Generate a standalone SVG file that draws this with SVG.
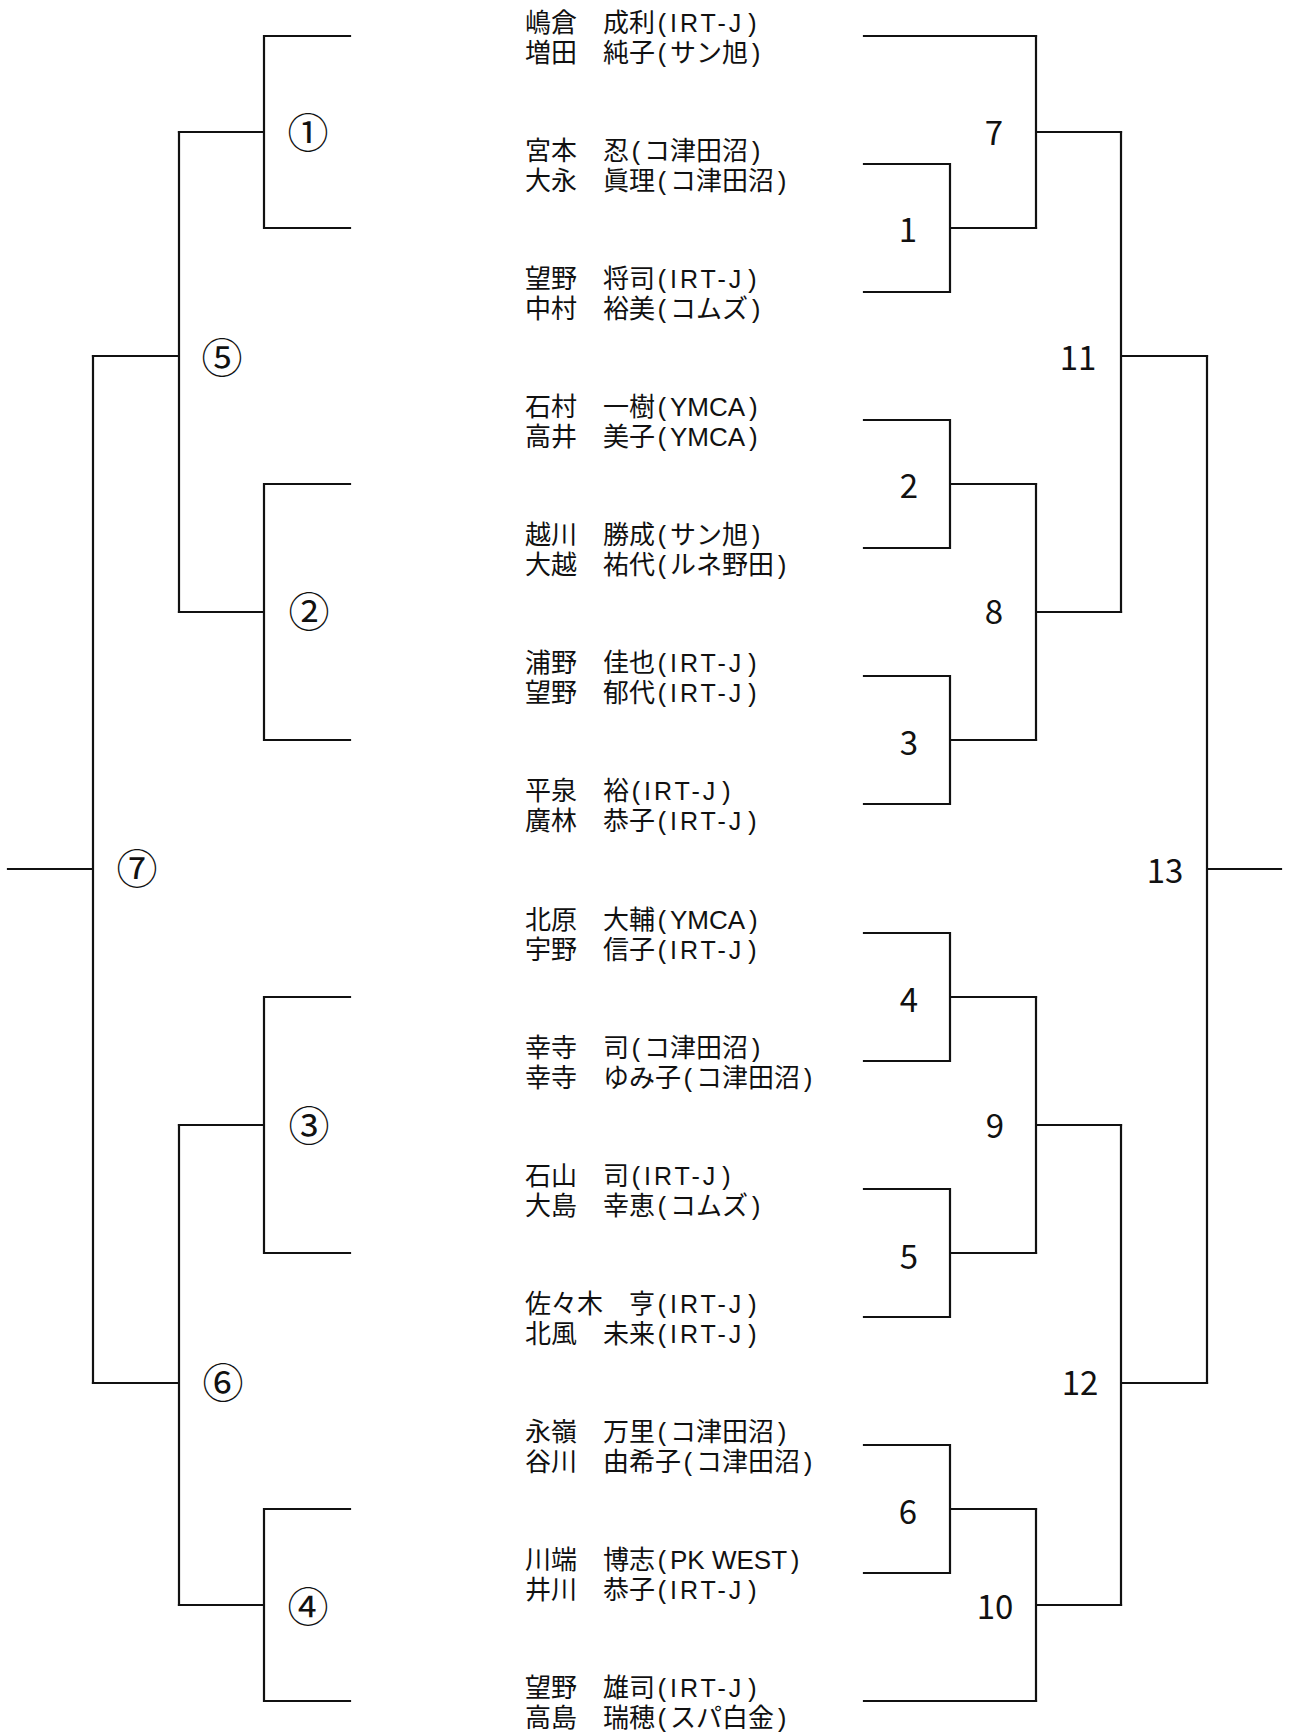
<svg xmlns="http://www.w3.org/2000/svg" width="1290" height="1733" viewBox="0 0 1290 1733">
<style>
.ln{fill:none;stroke:#111;stroke-width:2.2;stroke-linecap:square;stroke-linejoin:miter}
.nm{font-family:"Noto Sans CJK JP","Noto Sans CJK SC",sans-serif;font-size:26px;fill:#111}
.p{font-family:"Liberation Mono","DejaVu Sans Mono",monospace;font-size:25px}
.m{font-family:"Liberation Sans",Arial,sans-serif;font-size:25px;letter-spacing:3px}
.s{font-family:"Liberation Sans",Arial,sans-serif;font-size:26px}
.lb{font-family:"Noto Sans CJK JP","Noto Sans CJK SC",sans-serif;font-size:33px;fill:#111;text-anchor:middle}
.cl{font-family:"Noto Sans CJK JP","Noto Sans CJK SC",sans-serif;font-size:41px;fill:#111;text-anchor:middle}
</style>
<rect width="1290" height="1733" fill="#fff"/>
<g id="connectors" class="ln">
<path d="M864,36 H1036"/>
<path d="M864,164 H950 V292 H864 M950,228 H1036"/>
<path d="M1036,36 V228 M1036,132 H1121"/>
<path d="M864,420 H950 V548 H864 M950,484 H1036"/>
<path d="M864,676 H950 V804 H864 M950,740 H1036"/>
<path d="M1036,484 V740 M1036,612 H1121"/>
<path d="M1121,132 V612 M1121,356 H1207"/>
<path d="M864,933 H950 V1061 H864 M950,997 H1036"/>
<path d="M864,1189 H950 V1317 H864 M950,1253 H1036"/>
<path d="M1036,997 V1253 M1036,1125 H1121"/>
<path d="M864,1445 H950 V1573 H864 M950,1509 H1036"/>
<path d="M864,1701 H1036"/>
<path d="M1036,1509 V1701 M1036,1605 H1121"/>
<path d="M1121,1125 V1605 M1121,1383 H1207"/>
<path d="M1207,356 V1383 M1207,869 H1281"/>
<path d="M350,36 H264 V228 H350 M264,132 H179"/>
<path d="M350,484 H264 V740 H350 M264,612 H179"/>
<path d="M179,132 V612 M179,356 H93"/>
<path d="M350,997 H264 V1253 H350 M264,1125 H179"/>
<path d="M350,1509 H264 V1701 H350 M264,1605 H179"/>
<path d="M179,1125 V1605 M179,1383 H93"/>
<path d="M93,356 V1383 M93,869 H8"/>
</g>
<g id="entry1" class="nm"><text x="525" y="32">嶋倉　成利<tspan class="p">(</tspan><tspan class="m">IRT-J</tspan><tspan class="p">)</tspan></text><text x="525" y="62">増田　純子<tspan class="p">(</tspan>サン旭<tspan class="p">)</tspan></text></g>
<g id="entry2" class="nm"><text x="525" y="160">宮本　忍<tspan class="p">(</tspan>コ津田沼<tspan class="p">)</tspan></text><text x="525" y="190">大永　眞理<tspan class="p">(</tspan>コ津田沼<tspan class="p">)</tspan></text></g>
<g id="entry3" class="nm"><text x="525" y="288">望野　将司<tspan class="p">(</tspan><tspan class="m">IRT-J</tspan><tspan class="p">)</tspan></text><text x="525" y="318">中村　裕美<tspan class="p">(</tspan>コムズ<tspan class="p">)</tspan></text></g>
<g id="entry4" class="nm"><text x="525" y="416">石村　一樹<tspan class="p">(</tspan><tspan class="s">YMCA</tspan><tspan class="p">)</tspan></text><text x="525" y="446">高井　美子<tspan class="p">(</tspan><tspan class="s">YMCA</tspan><tspan class="p">)</tspan></text></g>
<g id="entry5" class="nm"><text x="525" y="544">越川　勝成<tspan class="p">(</tspan>サン旭<tspan class="p">)</tspan></text><text x="525" y="574">大越　祐代<tspan class="p">(</tspan>ルネ野田<tspan class="p">)</tspan></text></g>
<g id="entry6" class="nm"><text x="525" y="672">浦野　佳也<tspan class="p">(</tspan><tspan class="m">IRT-J</tspan><tspan class="p">)</tspan></text><text x="525" y="702">望野　郁代<tspan class="p">(</tspan><tspan class="m">IRT-J</tspan><tspan class="p">)</tspan></text></g>
<g id="entry7" class="nm"><text x="525" y="800">平泉　裕<tspan class="p">(</tspan><tspan class="m">IRT-J</tspan><tspan class="p">)</tspan></text><text x="525" y="830">廣林　恭子<tspan class="p">(</tspan><tspan class="m">IRT-J</tspan><tspan class="p">)</tspan></text></g>
<g id="entry8" class="nm"><text x="525" y="929">北原　大輔<tspan class="p">(</tspan><tspan class="s">YMCA</tspan><tspan class="p">)</tspan></text><text x="525" y="959">宇野　信子<tspan class="p">(</tspan><tspan class="m">IRT-J</tspan><tspan class="p">)</tspan></text></g>
<g id="entry9" class="nm"><text x="525" y="1057">幸寺　司<tspan class="p">(</tspan>コ津田沼<tspan class="p">)</tspan></text><text x="525" y="1087">幸寺　ゆみ子<tspan class="p">(</tspan>コ津田沼<tspan class="p">)</tspan></text></g>
<g id="entry10" class="nm"><text x="525" y="1185">石山　司<tspan class="p">(</tspan><tspan class="m">IRT-J</tspan><tspan class="p">)</tspan></text><text x="525" y="1215">大島　幸恵<tspan class="p">(</tspan>コムズ<tspan class="p">)</tspan></text></g>
<g id="entry11" class="nm"><text x="525" y="1313">佐々木　亨<tspan class="p">(</tspan><tspan class="m">IRT-J</tspan><tspan class="p">)</tspan></text><text x="525" y="1343">北風　未来<tspan class="p">(</tspan><tspan class="m">IRT-J</tspan><tspan class="p">)</tspan></text></g>
<g id="entry12" class="nm"><text x="525" y="1441">永嶺　万里<tspan class="p">(</tspan>コ津田沼<tspan class="p">)</tspan></text><text x="525" y="1471">谷川　由希子<tspan class="p">(</tspan>コ津田沼<tspan class="p">)</tspan></text></g>
<g id="entry13" class="nm"><text x="525" y="1569">川端　博志<tspan class="p">(</tspan><tspan class="s">PK WEST</tspan><tspan class="p">)</tspan></text><text x="525" y="1599">井川　恭子<tspan class="p">(</tspan><tspan class="m">IRT-J</tspan><tspan class="p">)</tspan></text></g>
<g id="entry14" class="nm"><text x="525" y="1697">望野　雄司<tspan class="p">(</tspan><tspan class="m">IRT-J</tspan><tspan class="p">)</tspan></text><text x="525" y="1727">高島　瑞穂<tspan class="p">(</tspan>スパ白金<tspan class="p">)</tspan></text></g>
<g id="lbl-c1" class="cl"><text x="308" y="148">①</text></g>
<g id="lbl-c5" class="cl"><text x="222" y="373">⑤</text></g>
<g id="lbl-c2" class="cl"><text x="309" y="627">②</text></g>
<g id="lbl-c7" class="cl"><text x="137" y="884">⑦</text></g>
<g id="lbl-c3" class="cl"><text x="309" y="1141">③</text></g>
<g id="lbl-c6" class="cl"><text x="223" y="1398">⑥</text></g>
<g id="lbl-c4" class="cl"><text x="308" y="1622">④</text></g>
<g id="lbl-7" class="lb"><text x="994" y="145">7</text></g>
<g id="lbl-1" class="lb"><text x="908" y="242">1</text></g>
<g id="lbl-11" class="lb"><text x="1078" y="370">11</text></g>
<g id="lbl-2" class="lb"><text x="909" y="498">2</text></g>
<g id="lbl-8" class="lb"><text x="994" y="624">8</text></g>
<g id="lbl-3" class="lb"><text x="909" y="755">3</text></g>
<g id="lbl-13" class="lb"><text x="1165" y="883">13</text></g>
<g id="lbl-4" class="lb"><text x="909" y="1012">4</text></g>
<g id="lbl-9" class="lb"><text x="995" y="1138">9</text></g>
<g id="lbl-5" class="lb"><text x="909" y="1269">5</text></g>
<g id="lbl-12" class="lb"><text x="1080" y="1395">12</text></g>
<g id="lbl-6" class="lb"><text x="908" y="1524">6</text></g>
<g id="lbl-10" class="lb"><text x="995" y="1619">10</text></g>
</svg>
